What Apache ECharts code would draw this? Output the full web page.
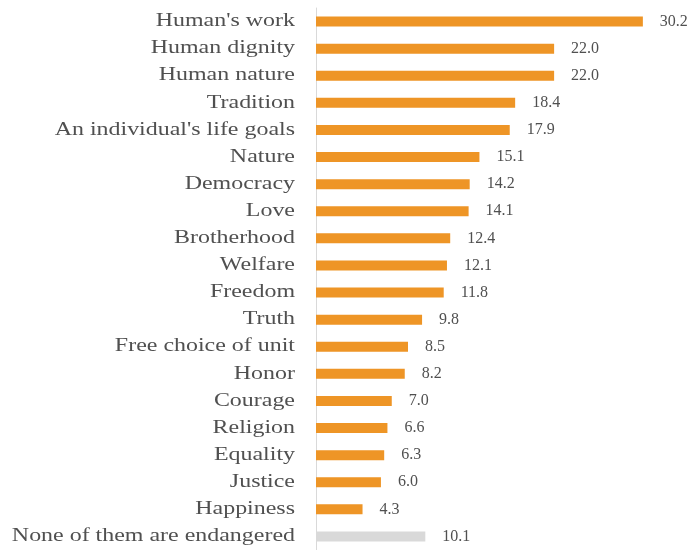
<!DOCTYPE html>
<html>
<head>
<meta charset="utf-8">
<script src="https://cdn.jsdelivr.net/npm/echarts@6/dist/echarts.min.js"></script>
<style>
  html, body { margin: 0; padding: 0; background: #ffffff; }
  #chart { width: 694px; height: 550px; }
</style>
</head>
<body>
<div id="chart"></div>
<script>
// Values threatened, in percent of respondents
const categories = [
  "Human's work", "Human dignity", "Human nature", "Tradition",
  "An individual's life goals", "Nature", "Democracy", "Love",
  "Brotherhood", "Welfare", "Freedom", "Truth", "Free choice of unit",
  "Honor", "Courage", "Religion", "Equality", "Justice", "Happiness",
  "None of them are endangered"
];
const values = [30.2, 22.0, 22.0, 18.4, 17.9, 15.1, 14.2, 14.1, 12.4, 12.1,
                11.8, 9.8, 8.5, 8.2, 7.0, 6.6, 6.3, 6.0, 4.3, 10.1];
// the last row is a "none" answer, drawn in grey
const neutralCategory = "None of them are endangered";

const ORANGE = '#EE9526';
const GREY = '#D9D9D9';
const TEXT = '#505050';
const FONT = '"Liberation Serif", "Times New Roman", serif';

const chart = echarts.init(document.getElementById('chart'), null, { renderer: 'canvas' });

chart.setOption({
  animation: false,
  grid: { left: 316, top: 8, width: 368, height: 542, containLabel: false },
  xAxis: {
    type: 'value', min: 0, max: 34,
    show: false
  },
  yAxis: {
    type: 'category',
    data: categories,
    inverse: true,
    axisLine: { show: true, lineStyle: { color: '#D9D9D9', width: 1 } },
    axisTick: { show: false },
    axisLabel: { show: false }
  },
  series: [{
    type: 'bar',
    barWidth: 10,
    data: categories.map((c, i) => ({
      value: values[i],
      itemStyle: { color: c === neutralCategory ? GREY : ORANGE }
    })),
    label: {
      show: true,
      position: 'right',
      distance: 17,
      color: TEXT,
      fontFamily: FONT,
      fontSize: 16,
      formatter: p => p.value.toFixed(1)
    }
  }, {
    // category names, set in a wide serif to the left of the axis
    type: 'custom',
    clip: false,
    silent: true,
    data: categories.map((c, i) => [0, i]),
    encode: { x: 0, y: 1 },
    renderItem: (params, api) => {
      const pt = api.coord([0, api.value(1)]);
      return {
        type: 'text',
        x: pt[0] - 21,
        y: pt[1],
        scaleX: 1.33,
        style: {
          text: categories[api.value(1)],
          align: 'right',
          verticalAlign: 'middle',
          fill: TEXT,
          font: '18px ' + FONT
        }
      };
    }
  }]
});
</script>
</body>
</html>
